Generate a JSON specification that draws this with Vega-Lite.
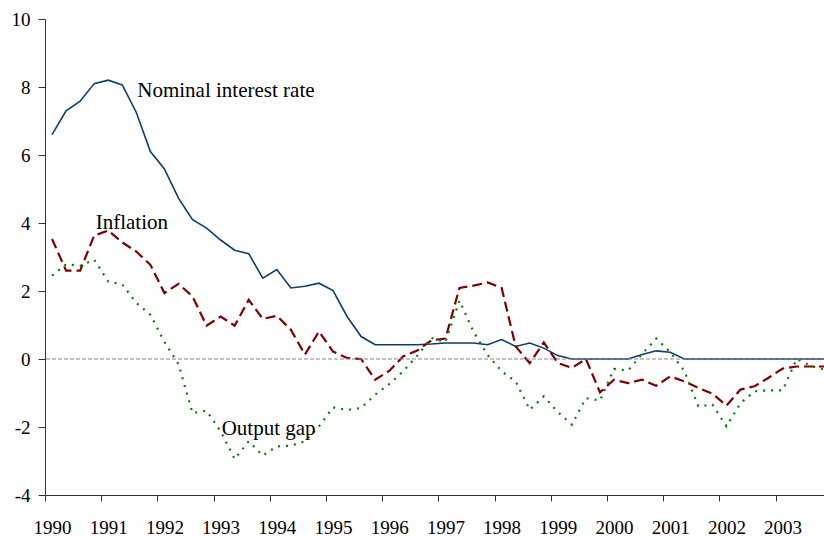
{
  "$schema": "https://vega.github.io/schema/vega-lite/v6.json",
  "width": 779,
  "height": 476,
  "autosize": {"type": "none"},
  "padding": {"left": 45, "top": 19, "right": 0, "bottom": 42},
  "background": "white",
  "config": {"view": {"stroke": null}},
  "datasets": {
    "series": [
      {"t": 1990.00, "rate": 6.6, "infl": 3.53, "gap": 2.45},
      {"t": 1990.25, "rate": 7.3, "infl": 2.6, "gap": 2.79},
      {"t": 1990.50, "rate": 7.58, "infl": 2.6, "gap": 2.74},
      {"t": 1990.75, "rate": 8.1, "infl": 3.63, "gap": 2.92},
      {"t": 1991.00, "rate": 8.2, "infl": 3.78, "gap": 2.28},
      {"t": 1991.25, "rate": 8.06, "infl": 3.43, "gap": 2.19},
      {"t": 1991.50, "rate": 7.25, "infl": 3.16, "gap": 1.65},
      {"t": 1991.75, "rate": 6.1, "infl": 2.77, "gap": 1.3},
      {"t": 1992.00, "rate": 5.59, "infl": 1.94, "gap": 0.5},
      {"t": 1992.25, "rate": 4.73, "infl": 2.21, "gap": -0.15},
      {"t": 1992.50, "rate": 4.1, "infl": 1.84, "gap": -1.59},
      {"t": 1992.75, "rate": 3.85, "infl": 0.98, "gap": -1.52},
      {"t": 1993.00, "rate": 3.5, "infl": 1.25, "gap": -2.13},
      {"t": 1993.25, "rate": 3.2, "infl": 0.98, "gap": -2.94},
      {"t": 1993.50, "rate": 3.1, "infl": 1.74, "gap": -2.42},
      {"t": 1993.75, "rate": 2.38, "infl": 1.18, "gap": -2.84},
      {"t": 1994.00, "rate": 2.63, "infl": 1.27, "gap": -2.57},
      {"t": 1994.25, "rate": 2.09, "infl": 0.86, "gap": -2.55},
      {"t": 1994.50, "rate": 2.14, "infl": 0.13, "gap": -2.42},
      {"t": 1994.75, "rate": 2.23, "infl": 0.81, "gap": -1.98},
      {"t": 1995.00, "rate": 2.01, "infl": 0.22, "gap": -1.42},
      {"t": 1995.25, "rate": 1.25, "infl": 0.03, "gap": -1.5},
      {"t": 1995.50, "rate": 0.66, "infl": 0.0, "gap": -1.44},
      {"t": 1995.75, "rate": 0.42, "infl": -0.61, "gap": -1.05},
      {"t": 1996.00, "rate": 0.42, "infl": -0.35, "gap": -0.74},
      {"t": 1996.25, "rate": 0.42, "infl": 0.08, "gap": -0.36},
      {"t": 1996.50, "rate": 0.42, "infl": 0.25, "gap": 0.1},
      {"t": 1996.75, "rate": 0.44, "infl": 0.55, "gap": 0.62},
      {"t": 1997.00, "rate": 0.47, "infl": 0.6, "gap": 0.5},
      {"t": 1997.25, "rate": 0.47, "infl": 2.09, "gap": 1.72},
      {"t": 1997.50, "rate": 0.47, "infl": 2.16, "gap": 0.8},
      {"t": 1997.75, "rate": 0.42, "infl": 2.25, "gap": 0.12},
      {"t": 1998.00, "rate": 0.57, "infl": 2.09, "gap": -0.36},
      {"t": 1998.25, "rate": 0.37, "infl": 0.37, "gap": -0.66},
      {"t": 1998.50, "rate": 0.47, "infl": -0.12, "gap": -1.49},
      {"t": 1998.75, "rate": 0.32, "infl": 0.49, "gap": -1.1},
      {"t": 1999.00, "rate": 0.1, "infl": -0.12, "gap": -1.56},
      {"t": 1999.25, "rate": 0.0, "infl": -0.26, "gap": -1.93},
      {"t": 1999.50, "rate": 0.0, "infl": 0.0, "gap": -1.15},
      {"t": 1999.75, "rate": 0.0, "infl": -0.98, "gap": -1.22},
      {"t": 2000.00, "rate": 0.0, "infl": -0.61, "gap": -0.29},
      {"t": 2000.25, "rate": 0.0, "infl": -0.71, "gap": -0.34},
      {"t": 2000.50, "rate": 0.13, "infl": -0.61, "gap": 0.15},
      {"t": 2000.75, "rate": 0.24, "infl": -0.79, "gap": 0.6},
      {"t": 2001.00, "rate": 0.2, "infl": -0.51, "gap": 0.2},
      {"t": 2001.25, "rate": 0.0, "infl": -0.66, "gap": -0.35},
      {"t": 2001.50, "rate": 0.0, "infl": -0.85, "gap": -1.39},
      {"t": 2001.75, "rate": 0.0, "infl": -1.02, "gap": -1.34},
      {"t": 2002.00, "rate": 0.0, "infl": -1.37, "gap": -1.98},
      {"t": 2002.25, "rate": 0.0, "infl": -0.9, "gap": -1.3},
      {"t": 2002.50, "rate": 0.0, "infl": -0.8, "gap": -0.95},
      {"t": 2002.75, "rate": 0.0, "infl": -0.55, "gap": -0.92},
      {"t": 2003.00, "rate": 0.0, "infl": -0.28, "gap": -0.92},
      {"t": 2003.25, "rate": 0.0, "infl": -0.22, "gap": 0.0},
      {"t": 2003.50, "rate": 0.0, "infl": -0.22, "gap": -0.2},
      {"t": 2003.75, "rate": 0.0, "infl": -0.22, "gap": -0.32}
    ],
    "labels": [
      {"label": "Nominal interest rate", "t": 1991.517, "v": 7.715},
      {"label": "Inflation", "t": 1990.777, "v": 3.815},
      {"label": "Output gap", "t": 1993.019, "v": -2.235}
    ],
    "zero": [{"z": 0}]
  },
  "layer": [
    {
      "data": {"name": "series"},
      "mark": {"type": "line", "color": "#0b3d6f", "strokeWidth": 1.6, "clip": true},
      "encoding": {
        "x": {
          "field": "t", "type": "quantitative",
          "scale": {"domain": [1989.875, 2003.736], "nice": false, "zero": false},
          "axis": {
            "title": null,
            "orient": "bottom",
            "values": [1989.875, 1990.125, 1990.375, 1990.625, 1990.875, 1991.125, 1991.375, 1991.625, 1991.875, 1992.125, 1992.375, 1992.625, 1992.875, 1993.125, 1993.375, 1993.625, 1993.875, 1994.125, 1994.375, 1994.625, 1994.875, 1995.125, 1995.375, 1995.625, 1995.875, 1996.125, 1996.375, 1996.625, 1996.875, 1997.125, 1997.375, 1997.625, 1997.875, 1998.125, 1998.375, 1998.625, 1998.875, 1999.125, 1999.375, 1999.625, 1999.875, 2000.125, 2000.375, 2000.625, 2000.875, 2001.125, 2001.375, 2001.625, 2001.875, 2002.125, 2002.375, 2002.625, 2002.875, 2003.125, 2003.375, 2003.625],
            "labelExpr": "abs((datum.value + 0.125) % 1) < 0.01 ? '' + round(datum.value + 0.125) : ''",
            "labelOffset": 7,
            "labelOverlap": false,
            "labelFlush": false,
            "labelBound": false,
            "labelFont": "Liberation Serif",
            "labelFontSize": 19,
            "labelColor": "#000000",
            "labelPadding": 17,
            "tickSize": 6,
            "tickColor": "#333333",
            "domainColor": "#333333",
            "grid": false
          }
        },
        "y": {
          "field": "rate", "type": "quantitative",
          "scale": {"domain": [-4, 10], "nice": false, "zero": false},
          "axis": {
            "title": null,
            "values": [-4, -2, 0, 2, 4, 6, 8, 10],
            "labelExpr": "'' + datum.value",
            "labelFont": "Liberation Serif",
            "labelFontSize": 19,
            "labelColor": "#000000",
            "labelPadding": 8,
            "tickSize": 7,
            "tickColor": "#333333",
            "domainColor": "#333333",
            "grid": false
          }
        }
      }
    },
    {
      "data": {"name": "series"},
      "mark": {"type": "line", "color": "#800000", "strokeWidth": 2.2, "strokeDash": [10, 5], "clip": true},
      "encoding": {
        "x": {"field": "t", "type": "quantitative"},
        "y": {"field": "infl", "type": "quantitative"}
      }
    },
    {
      "data": {"name": "series"},
      "mark": {"type": "line", "color": "#008000", "strokeWidth": 2.2, "strokeDash": [2, 6], "clip": true},
      "encoding": {
        "x": {"field": "t", "type": "quantitative"},
        "y": {"field": "gap", "type": "quantitative"}
      }
    },
    {
      "data": {"name": "zero"},
      "mark": {"type": "rule", "color": "#888888", "strokeWidth": 1, "strokeDash": [4, 2]},
      "encoding": {
        "y": {"field": "z", "type": "quantitative"}
      }
    },
    {
      "data": {"name": "labels"},
      "mark": {"type": "text", "align": "left", "baseline": "alphabetic", "font": "Liberation Serif", "fontSize": 21, "color": "#000000"},
      "encoding": {
        "x": {"field": "t", "type": "quantitative"},
        "y": {"field": "v", "type": "quantitative"},
        "text": {"field": "label", "type": "nominal"}
      }
    }
  ]
}
